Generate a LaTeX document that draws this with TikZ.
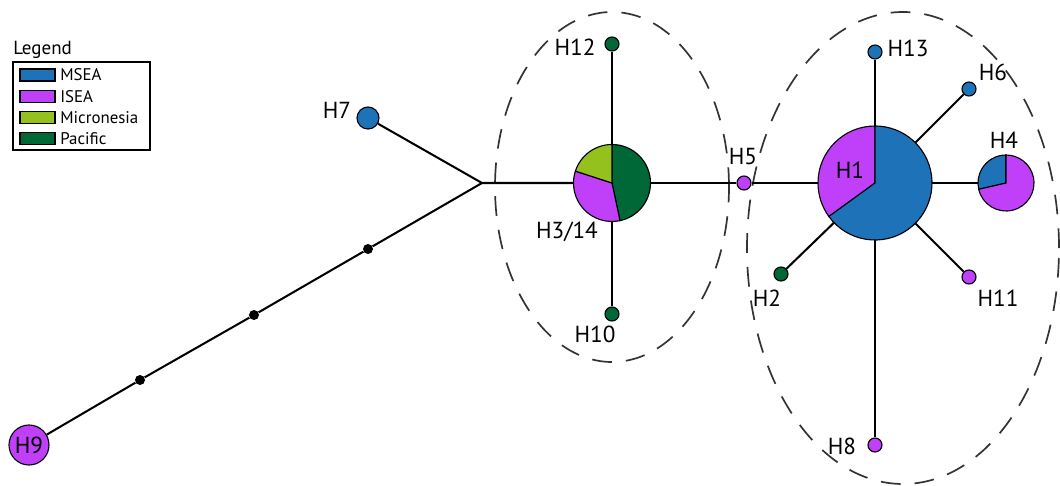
\documentclass[tikz,border=0pt]{standalone}
\usepackage{fontspec}
\setmainfont{PT Sans}
\definecolor{msea}{RGB}{30,114,184}
\definecolor{isea}{RGB}{192,64,250}
\definecolor{micro}{RGB}{149,193,31}
\definecolor{pacific}{RGB}{0,104,55}

\begin{document}
\begin{tikzpicture}[x=0.025cm, y=0.025cm,
    hap/.style={circle, draw, line width=0.8pt, inner sep=0pt, minimum size=0.35cm},
    piehap/.style={circle, inner sep=0pt},
    vec/.style={circle, fill=black, inner sep=0pt, minimum size=0.25cm},
    lab/.style={font=\fontsize{16.5}{19}\selectfont, inner sep=0pt},
    edge/.style={line width=1.45pt},
    group/.style={line width=1.2pt, draw=black!80, dash pattern=on 14pt off 10pt}]
  \useasboundingbox (0,0) rectangle (1060,-486);

  % groups
  \draw[group] (612,-187) ellipse [x radius=117, y radius=175];
  \draw[group] (903,-248) ellipse [x radius=156, y radius=236];

  % legend
  \node[anchor=west, font=\fontsize{13.5}{16}\selectfont, inner sep=0pt] (legtitle) at (13,-50) {Legend};
  \draw[line width=0.8pt] (13,-62) rectangle (150,-150);
  \foreach \col/\name [count=\i] in {msea/MSEA, isea/ISEA, micro/Micronesia, pacific/Pacific} {
    \filldraw[fill=\col, line width=0.8pt] (20,-47.7-21.3*\i) rectangle (55,-59.7-21.3*\i);
    \node[anchor=west, font=\fontsize{12}{14}\selectfont, inner sep=0pt] (leg\i) at (60,-53.7-21.3*\i) {\name};
  }

  % haplotypes
  \node[piehap, minimum size=1.925cm] (h3) at (612,-183) {};
  \node[piehap, minimum size=2.85cm] (h1) at (875,-183) {};
  \node[piehap, minimum size=1.4cm] (h4) at (1006,-183) {};
  \node[hap, fill=isea] (h5) at (744,-183) {};
  \node[hap, fill=msea, minimum size=0.55cm] (h7) at (368,-118) {};
  \node[hap, fill=isea, minimum size=1cm, lab] (h9) at (29,-445) {H9};
  \node[hap, fill=pacific] (h12) at (612,-44) {};
  \node[hap, fill=pacific] (h10) at (612,-314) {};
  \node[hap, fill=msea] (h13) at (875,-52) {};
  \node[hap, fill=msea] (h6) at (969,-89) {};
  \node[hap, fill=isea] (h11) at (969,-277) {};
  \node[hap, fill=pacific] (h2) at (781,-274) {};
  \node[hap, fill=isea] (h8) at (875,-445) {};

  % median vectors
  \coordinate (jn) at (482,-183);
  \node[vec] (v1) at (368,-249) {};
  \node[vec] (v2) at (254,-315) {};
  \node[vec] (v3) at (140,-380) {};

  % pies
  \filldraw[fill=pacific, line width=0.8pt] (h3.center) -- ++(90:38.5) arc[start angle=90, end angle=-78, radius=38.5] -- cycle;
  \filldraw[fill=isea, line width=0.8pt] (h3.center) -- ++(162:38.5) arc[start angle=162, end angle=282, radius=38.5] -- cycle;
  \filldraw[fill=micro, line width=0.8pt] (h3.center) -- ++(90:38.5) arc[start angle=90, end angle=162, radius=38.5] -- cycle;

  \filldraw[fill=isea, line width=0.8pt] (h1.center) -- ++(90:57) arc[start angle=90, end angle=216, radius=57] -- cycle;
  \filldraw[fill=msea, line width=0.8pt] (h1.center) -- ++(216:57) arc[start angle=216, end angle=450, radius=57] -- cycle;

  \filldraw[fill=msea, line width=0.8pt] (h4.center) -- ++(90:28) arc[start angle=90, end angle=193, radius=28] -- cycle;
  \filldraw[fill=isea, line width=0.8pt] (h4.center) -- ++(193:28) arc[start angle=193, end angle=450, radius=28] -- cycle;

  % links
  \draw[edge] (h9) -- (v3) -- (v2) -- (v1) -- (jn);
  \draw[edge] (h7) -- (jn) -- (h3);
  \draw[edge] (h3) -- (h5) -- (h1);
  \draw[edge] (h3) -- (h12);
  \draw[edge] (h3) -- (h10);
  \foreach \n in {h13,h6,h4,h11,h2,h8}
    \draw[edge] (h1) -- (\n);

  % labels
  \node[lab] (l1) at (850,-170) {H1};
  \node[lab] (l2) at (767,-298) {H2};
  \node[lab] (l3) at (567,-232) {H3/14};
  \node[lab] (l4) at (1004,-140) {H4};
  \node[lab] (l5) at (743,-157) {H5};
  \node[lab] (l6) at (993,-72) {H6};
  \node[lab] (l7) at (337,-110) {H7};
  \node[lab] (l8) at (842,-446) {H8};
  \node[lab] (l10) at (595,-334) {H10};
  \node[lab] (l11) at (998,-298) {H11};
  \node[lab] (l12) at (575,-47) {H12};
  \node[lab] (l13) at (908,-48) {H13};
\end{tikzpicture}
\end{document}
